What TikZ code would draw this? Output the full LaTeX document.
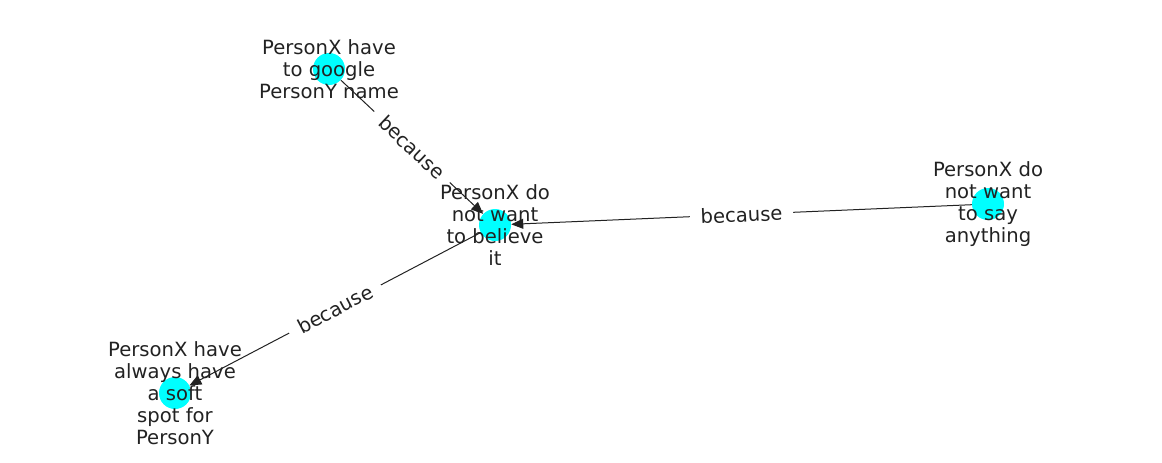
\documentclass[tikz,border=0pt]{standalone}
\usepackage{fontspec}
\setmainfont{DejaVu Sans}
\usetikzlibrary{arrows.meta}
\definecolor{nodecyan}{RGB}{0,255,255}
\definecolor{inkgray}{RGB}{34,34,34}

\begin{document}
\begin{tikzpicture}[x=0.75pt,y=-0.75pt,
  dot/.style={circle, fill=nodecyan, minimum size=24pt, inner sep=0pt},
  txt/.style={align=center, inner sep=0pt, text=inkgray, font=\fontsize{14.7}{16.5}\selectfont},
  rel/.style={-{Triangle[length=9pt,width=7.5pt]}, line width=0.75pt, inkgray},
  lbl/.style={sloped, fill=white, inner xsep=8pt, inner ysep=3pt, text=inkgray, font=\fontsize{14.7}{16.5}\selectfont}]
	\useasboundingbox (0,0) rectangle (1162,462);

	\path (329,69) node[dot] (google) {}
		(495,225) node[dot] (believe) {}
		(988,204) node[dot] (say) {}
		(175,393) node[dot] (soft) {};

	\draw[rel] (google) -- node[lbl] (lgoogle) {because} (believe);
	\draw[rel] (say) -- node[lbl] (lsay) {because} (believe);
	\draw[rel] (believe) -- node[lbl] (lsoft) {because} (soft);

	\node[txt] (tgoogle) at (google) {PersonX have\\to google\\PersonY name};
	\node[txt] (tbelieve) at (believe) {PersonX do\\not want\\to believe\\it};
	\node[txt] (tsay) at (say) {PersonX do\\not want\\to say\\anything};
	\node[txt] (tsoft) at (soft) {PersonX have\\always have\\a soft\\spot for\\PersonY};
\end{tikzpicture}
\end{document}
